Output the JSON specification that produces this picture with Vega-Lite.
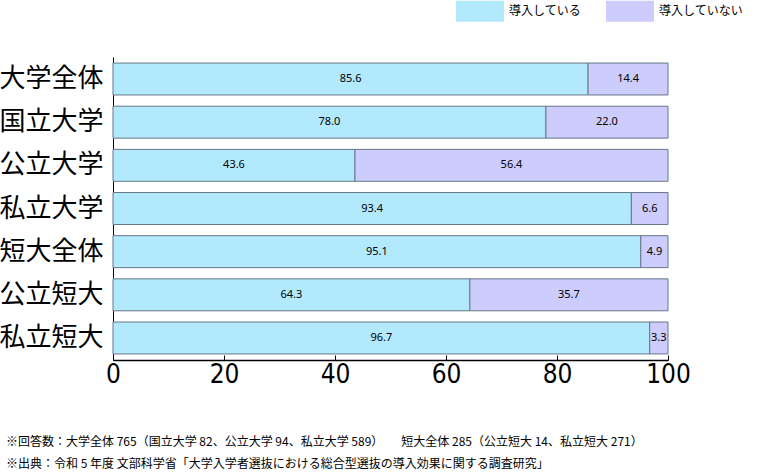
{
  "$schema": "https://vega.github.io/schema/vega-lite/v6.json",
  "autosize": {"type": "none"},
  "width": 555,
  "height": 303,
  "padding": {"left": 113, "top": 57, "right": 111, "bottom": 115},
  "background": "white",
  "config": {"view": {"stroke": null}},
  "data": {
    "values": [
      {"cat": "大学全体", "s": "導入している", "o": 1, "v": 85.6},
      {"cat": "大学全体", "s": "導入していない", "o": 2, "v": 14.4},
      {"cat": "国立大学", "s": "導入している", "o": 1, "v": 78.0},
      {"cat": "国立大学", "s": "導入していない", "o": 2, "v": 22.0},
      {"cat": "公立大学", "s": "導入している", "o": 1, "v": 43.6},
      {"cat": "公立大学", "s": "導入していない", "o": 2, "v": 56.4},
      {"cat": "私立大学", "s": "導入している", "o": 1, "v": 93.4},
      {"cat": "私立大学", "s": "導入していない", "o": 2, "v": 6.6},
      {"cat": "短大全体", "s": "導入している", "o": 1, "v": 95.1},
      {"cat": "短大全体", "s": "導入していない", "o": 2, "v": 4.9},
      {"cat": "公立短大", "s": "導入している", "o": 1, "v": 64.3},
      {"cat": "公立短大", "s": "導入していない", "o": 2, "v": 35.7},
      {"cat": "私立短大", "s": "導入している", "o": 1, "v": 96.7},
      {"cat": "私立短大", "s": "導入していない", "o": 2, "v": 3.3}
    ]
  },
  "transform": [
    {"stack": "v", "groupby": ["cat"], "sort": [{"field": "o", "order": "ascending"}], "as": ["x0", "x1"]},
    {"calculate": "(datum.x0 + datum.x1) / 2", "as": "mid"}
  ],
  "title": {
    "text": [
      "※回答数：大学全体 765（国立大学 82、公立大学 94、私立大学 589）　　短大全体 285（公立短大 14、私立短大 271）",
      "※出典：令和 5 年度 文部科学省「大学入学者選抜における総合型選抜の導入効果に関する調査研究」"
    ],
    "orient": "bottom",
    "anchor": "start",
    "frame": "group",
    "dx": -107,
    "offset": 50,
    "font": "Noto Sans CJK JP",
    "fontSize": 12,
    "fontWeight": "normal",
    "lineHeight": 22,
    "color": "#000000"
  },
  "encoding": {
    "y": {
      "field": "cat",
      "type": "nominal",
      "sort": ["大学全体", "国立大学", "公立大学", "私立大学", "短大全体", "公立短大", "私立短大"],
      "scale": {"paddingInner": 0.26, "paddingOuter": 0.14},
      "axis": {
        "title": null,
        "ticks": false,
        "domainColor": "#000000",
        "domainWidth": 1,
        "labelFont": "Noto Sans CJK JP",
        "labelFontSize": 26,
        "labelColor": "#000000",
        "labelPadding": 10
      }
    }
  },
  "layer": [
    {
      "mark": {"type": "bar", "stroke": "#667788", "strokeWidth": 1},
      "encoding": {
        "x": {
          "field": "x0",
          "type": "quantitative",
          "scale": {"domain": [0, 100], "nice": false},
          "axis": {
            "title": null,
            "values": [0, 20, 40, 60, 80, 100],
            "grid": false,
            "domainColor": "#000000",
            "domainWidth": 1.5,
            "tickColor": "#000000",
            "tickSize": -5,
            "labelFont": "Liberation Sans Narrow, DejaVu Sans Condensed, sans-serif",
            "labelFontSize": 26,
            "labelColor": "#000000",
            "labelPadding": 6,
            "labelFlush": false
          }
        },
        "x2": {"field": "x1"},
        "color": {
          "field": "s",
          "type": "nominal",
          "scale": {"domain": ["導入している", "導入していない"], "range": ["#b3e9fd", "#ccccfd"]},
          "legend": {
            "title": null,
            "orient": "none",
            "legendX": 343,
            "legendY": -70,
            "direction": "horizontal",
            "columns": 2,
            "symbolType": "M-1,-0.44H1V0.44H-1Z",
            "symbolSize": 2304,
            "symbolStrokeWidth": 0,
            "symbolOpacity": 1,
            "labelFont": "Noto Sans CJK JP",
            "labelFontSize": 12,
            "labelColor": "#000000",
            "labelOffset": 5,
            "columnPadding": 24
          }
        }
      }
    },
    {
      "mark": {"type": "text", "font": "Noto Sans", "fontSize": 11, "color": "#000000"},
      "encoding": {
        "x": {"field": "mid", "type": "quantitative"},
        "text": {"field": "v", "type": "quantitative", "format": ".1f"}
      }
    }
  ]
}
